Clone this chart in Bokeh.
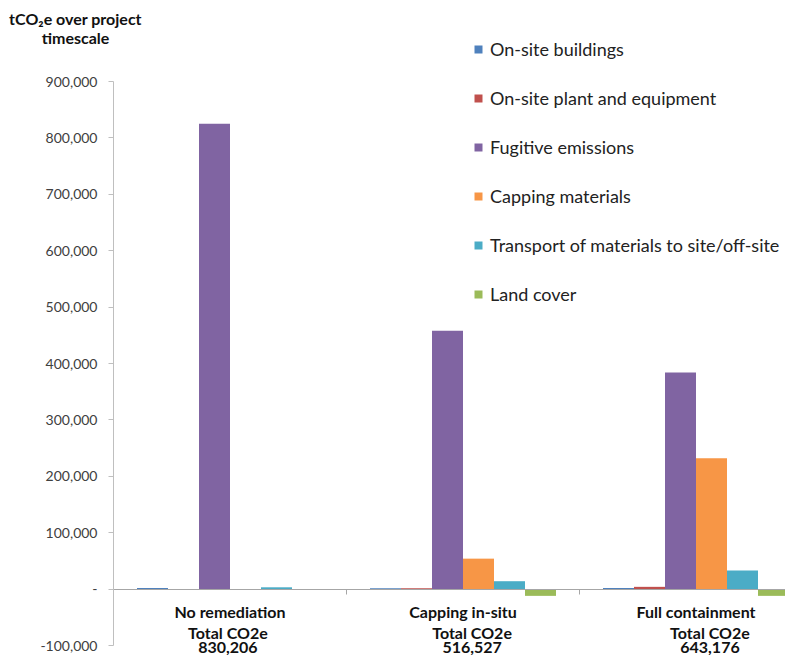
from bokeh.plotting import figure
from bokeh.models import (ColumnDataSource, FixedTicker, NumeralTickFormatter,
                          Legend, LegendItem, Label, LabelSet, Range1d)
from bokeh.core.properties import value
from bokeh.embed import file_html
from bokeh.resources import INLINE

# ---------------- data ----------------
scenarios = ["No remediation", "Capping in-situ", "Full containment"]
series = ["On-site buildings", "On-site plant and equipment", "Fugitive emissions",
          "Capping materials", "Transport of materials to site/off-site", "Land cover"]
buildings = [2000, 1500, 2000]
plant = [0, 1500, 4000]
fugitive = [825000, 458000, 384000]
capping = [0, 54000, 232000]
transport = [3200, 14000, 33000]
land_cover = [0, -12000, -12000]
totals = ["830,206", "516,527", "643,176"]
y_ticks = [-100000, 0, 100000, 200000, 300000, 400000, 500000, 600000, 700000, 800000, 900000]

values = [buildings, plant, fugitive, capping, transport, land_cover]
colors = ["#4F81BD", "#C0504D", "#8064A2", "#F79646", "#4BACC6", "#9BBB59"]

FONT = "Lato"
W, H = 785, 655
CAT_PX = 233.0                 # px per category
LEFT_PX = 113.0                # space left of the y axis
TOP_PX = 81.0                  # space above 900,000
AXIS_PX = 564.0                # px from 900,000 to -100,000
PX_PER_UNIT = AXIS_PX / 1000000
BOTTOM_PX = H - TOP_PX - AXIS_PX
ZERO_PX = TOP_PX + 900000 * PX_PER_UNIT


def y_at(px):
    """data y for a vertical pixel position measured from the top"""
    return -(px - ZERO_PX) / PX_PER_UNIT


x_start = -LEFT_PX / CAT_PX
x_end = (W - LEFT_PX) / CAT_PX
y_end = 900000 + TOP_PX / PX_PER_UNIT
y_start = -100000 - BOTTOM_PX / PX_PER_UNIT

p = figure(width=W, height=H,
           x_range=Range1d(x_start, x_end), y_range=Range1d(y_start, y_end),
           output_backend="svg", toolbar_location=None, min_border=0,
           min_border_left=0, min_border_right=0, min_border_top=0, min_border_bottom=0)
p.outline_line_color = None
p.xgrid.visible = False
p.ygrid.visible = False
p.background_fill_color = "white"
p.border_fill_color = "white"

bw = 31.0 / CAT_PX
items = []
for i, (name, vals, col) in enumerate(zip(series, values, colors)):
    xs = [k + 0.5 + (i - 2.5) * bw for k in range(len(scenarios))]
    src = ColumnDataSource(dict(x=xs, top=vals))
    r = p.vbar(x="x", top="top", bottom=0, width=bw, source=src,
               fill_color=col, line_color=None)
    items.append(LegendItem(label=name, renderers=[r]))

# y axis
yax = p.yaxis[0]
yax.fixed_location = 0
yax.bounds = (-100000, 900000)
yax.ticker = FixedTicker(ticks=y_ticks)
yax.formatter = NumeralTickFormatter(format="0,0")
yax.major_label_overrides = {0: "-"}
yax.axis_line_color = "#BFBFBF"
yax.major_tick_line_color = "#BFBFBF"
yax.major_tick_out = 5
yax.major_tick_in = 0
yax.minor_tick_line_color = None
yax.major_label_standoff = 11
yax.major_label_text_font = FONT
yax.major_label_text_font_size = "14px"
yax.major_label_text_color = "#404040"

# x axis at zero (tick marks at category boundaries, no tick labels)
xax = p.xaxis[0]
xax.fixed_location = 0
xax.bounds = (0, 3)
xax.ticker = FixedTicker(ticks=[1, 2, 3])
xax.axis_line_color = "#A6A6A6"
xax.major_tick_line_color = "#A6A6A6"
xax.major_tick_out = 5
xax.major_tick_in = 0
xax.minor_tick_line_color = None
xax.major_label_text_color = None
xax.major_label_standoff = 0

# legend
legend = Legend(items=items, location=(473, 350), orientation="vertical",
                glyph_width=10, glyph_height=10, label_standoff=7,
                spacing=27, padding=0, margin=0, border_line_color=None,
                background_fill_alpha=0, label_text_font=FONT,
                label_text_font_size="18px", label_text_color="#222222",
                label_height=22)
p.add_layout(legend, "center")

# category labels and totals
lbl_kw = dict(text_font=value(FONT), text_font_style="bold", text_font_size="16px",
              text_align="center", text_baseline="middle", text_color="#111111")
cat_src = ColumnDataSource(dict(x=[k + 0.5 for k in range(len(scenarios))],
                                y=[y_at(611)] * len(scenarios), text=scenarios))
p.add_layout(LabelSet(x="x", y="y", text="text", source=cat_src, **lbl_kw))
tot_off = [-0.009, 0.039, 0.06]
tot_x = [k + 0.5 + o for k, o in zip(range(len(scenarios)), tot_off)]
tot_src = ColumnDataSource(dict(x=tot_x, y=[y_at(632)] * len(scenarios),
                                text=["Total CO2e"] * len(scenarios)))
p.add_layout(LabelSet(x="x", y="y", text="text", source=tot_src, **lbl_kw))
num_src = ColumnDataSource(dict(x=tot_x, y=[y_at(647)] * len(scenarios), text=totals))
p.add_layout(LabelSet(x="x", y="y", text="text", source=num_src, **lbl_kw))

# y axis title (top-left)
p.add_layout(Label(x=75, y=H - 18, x_units="screen", y_units="screen",
                   text="tCO\u2082e over project", text_font=FONT,
                   text_font_style="bold", text_font_size="16px",
                   text_align="center", text_baseline="middle", text_color="#111111"))
p.add_layout(Label(x=75, y=H - 37, x_units="screen", y_units="screen",
                   text="timescale", text_font=FONT,
                   text_font_style="bold", text_font_size="16px",
                   text_align="center", text_baseline="middle", text_color="#111111"))

open("out.html", "w").write(file_html(p, INLINE))
